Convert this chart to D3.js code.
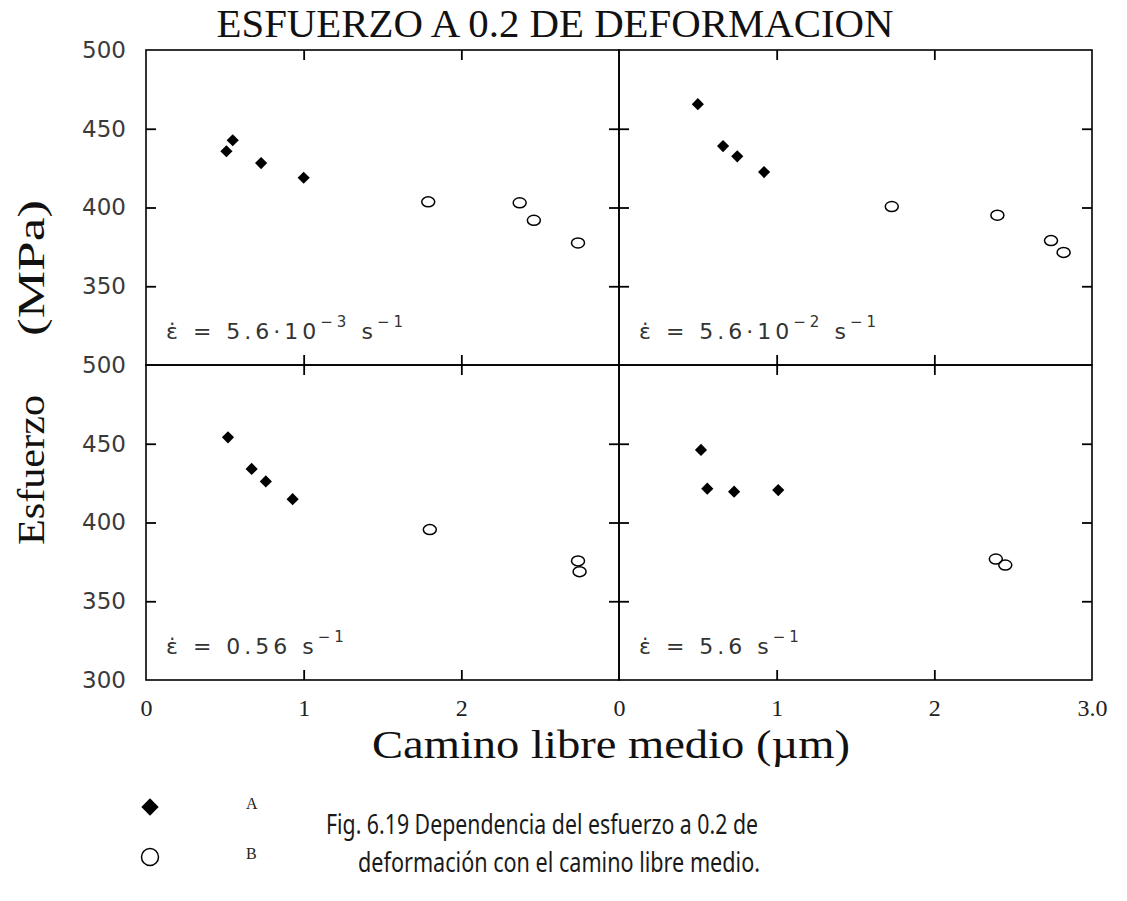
<!DOCTYPE html>
<html>
<head>
<meta charset="utf-8">
<script src="https://cdn.jsdelivr.net/npm/d3@7"></script>
<style>
  html, body { margin: 0; padding: 0; background: #fff; }
  svg { display: block; }
</style>
</head>
<body>
<svg id="chart" width="1127" height="901"></svg>
<script>
// Strain-rate panels: [mean free path (µm), stress (MPa)]
const panelRates = [
  { base: "5.6\u00b710", exp: "\u22123" },
  { base: "5.6\u00b710", exp: "\u22122" },
  { base: "0.56", exp: null },
  { base: "5.6", exp: null }
];

// Material A (filled diamonds)
const seriesA_tl = [[0.51, 435.7], [0.55, 442.7], [0.73, 428.2], [1.00, 418.9]];
const seriesA_tr = [[0.50, 465.6], [0.66, 439.0], [0.75, 432.5], [0.92, 422.5]];
const seriesA_bl = [[0.52, 454.1], [0.67, 434.0], [0.76, 426.1], [0.93, 414.8]];
const seriesA_br = [[0.52, 446.1], [0.56, 421.5], [0.73, 419.6], [1.01, 420.6]];

// Material B (open circles)
const seriesB_tl = [[1.79, 403.6], [2.37, 403.0], [2.46, 391.9], [2.74, 377.5]];
const seriesB_tr = [[1.73, 400.6], [2.40, 395.1], [2.74, 379.0], [2.82, 371.5]];
const seriesB_bl = [[1.80, 395.5], [2.74, 375.6], [2.75, 368.8]];
const seriesB_br = [[2.39, 376.8], [2.45, 373.0]];

const xDomain = [0, 3];
const yDomain = [300, 500];
const xTickValues = [1, 2];
const yTickValues = [350, 400, 450];
const yLabelsTop = [350, 400, 450, 500];
const yLabelsBottom = [300, 350, 400, 450, 500];
const xLabelsLeft = [0, 1, 2];
const xLabelsRight = [0, 1, 2, 3];
const xLabelText = { 0: "0", 1: "1", 2: "2", 3: "3.0" };

const legendItems = [
  { key: "A", shape: "diamond" },
  { key: "B", shape: "circle" }
];

const titleText = "ESFUERZO A 0.2 DE DEFORMACION";
const xAxisTitle = "Camino libre medio  (\u00b5m)";
const yAxisTitleParts = ["Esfuerzo", "(MPa)"];
const captionLines = [
  "Fig. 6.19 Dependencia del esfuerzo a 0.2 de",
  "deformaci\u00f3n con el camino libre medio."
];

// ---- layout ----
const svg = d3.select("#chart");
const cols = [[146, 619], [619, 1092]];
const rows = [[50, 365], [365, 680]];
const serif = "'Liberation Serif', 'DejaVu Serif', serif";
const plotter = "'DejaVu Sans', sans-serif";

const panels = [
  { c: 0, r: 0, A: seriesA_tl, B: seriesB_tl, rate: panelRates[0] },
  { c: 1, r: 0, A: seriesA_tr, B: seriesB_tr, rate: panelRates[1] },
  { c: 0, r: 1, A: seriesA_bl, B: seriesB_bl, rate: panelRates[2] },
  { c: 1, r: 1, A: seriesA_br, B: seriesB_br, rate: panelRates[3] }
];

const diamond = d3.symbol().type(d3.symbolSquare).size(74);

panels.forEach(p => {
  const [x0, x1] = cols[p.c];
  const [y0, y1] = rows[p.r];
  const x = d3.scaleLinear().domain(xDomain).range([x0, x1]);
  const y = d3.scaleLinear().domain(yDomain).range([y1, y0]);
  const g = svg.append("g");

  // frame
  g.append("rect")
    .attr("x", x0).attr("y", y0)
    .attr("width", x1 - x0).attr("height", y1 - y0)
    .attr("fill", "none").attr("stroke", "#000").attr("stroke-width", 1.6);

  // inward ticks on all four sides
  const tickAxes = [
    { axis: d3.axisBottom(x).tickValues(xTickValues), t: `translate(0,${y0})` },
    { axis: d3.axisTop(x).tickValues(xTickValues), t: `translate(0,${y1})` },
    { axis: d3.axisRight(y).tickValues(yTickValues), t: `translate(${x0},0)` },
    { axis: d3.axisLeft(y).tickValues(yTickValues), t: `translate(${x1},0)` }
  ];
  tickAxes.forEach(({ axis, t }) => {
    const a = g.append("g").attr("transform", t)
      .call(axis.tickSize(10).tickSizeOuter(0).tickFormat(""));
    a.select(".domain").remove();
    a.selectAll(".tick line").attr("stroke", "#000").attr("stroke-width", 1.8);
  });

  // y tick labels on the left column
  if (p.c === 0) {
    const a = g.append("g").attr("transform", `translate(${x0},0)`)
      .call(d3.axisLeft(y)
        .tickValues(p.r === 0 ? yLabelsTop : yLabelsBottom)
        .tickSize(0).tickPadding(20).tickFormat(d3.format("d")));
    a.select(".domain").remove();
    a.selectAll("text")
      .attr("font-family", plotter).attr("font-size", 23)
      .attr("fill", "#3a3a3a");
  }

  // x tick labels on the bottom row
  if (p.r === 1) {
    const a = g.append("g").attr("transform", `translate(0,${y1})`)
      .call(d3.axisBottom(x)
        .tickValues(p.c === 0 ? xLabelsLeft : xLabelsRight)
        .tickSize(0).tickPadding(19).tickFormat(d => xLabelText[d]));
    a.select(".domain").remove();
    a.selectAll("text")
      .attr("font-family", serif).attr("font-size", 24)
      .attr("fill", "#222");
  }

  // material A
  g.selectAll("path.ptA").data(p.A).join("path")
    .attr("class", "ptA")
    .attr("d", diamond)
    .attr("transform", d => `translate(${x(d[0])},${y(d[1])}) rotate(45)`)
    .attr("fill", "#000");

  // material B
  g.selectAll("ellipse.ptB").data(p.B).join("ellipse")
    .attr("class", "ptB")
    .attr("cx", d => x(d[0])).attr("cy", d => y(d[1]))
    .attr("rx", 6.5).attr("ry", 5)
    .attr("fill", "none").attr("stroke", "#000").attr("stroke-width", 1.5);

  // strain-rate annotation
  const t = g.append("text")
    .attr("x", x0 + 20).attr("y", y1 - 26)
    .attr("font-family", plotter).attr("font-size", 22)
    .attr("letter-spacing", 4)
    .attr("fill", "#333");
  t.append("tspan").text("\u03b5\u0307 = " + p.rate.base);
  if (p.rate.exp) {
    t.append("tspan").attr("dy", -12).attr("font-size", 15).text(p.rate.exp);
    t.append("tspan").attr("dy", 12).text(" s");
  } else {
    t.append("tspan").text(" s");
  }
  t.append("tspan").attr("dy", -12).attr("font-size", 15).text("\u22121");
});

// ---- titles ----
svg.append("text")
  .attr("x", 555).attr("y", 37)
  .attr("text-anchor", "middle")
  .attr("font-family", serif).attr("font-size", 41)
  .attr("textLength", 677).attr("lengthAdjust", "spacingAndGlyphs")
  .attr("fill", "#111")
  .text(titleText);

svg.append("text")
  .attr("x", 611).attr("y", 758)
  .attr("text-anchor", "middle")
  .attr("font-family", serif).attr("font-size", 40)
  .attr("textLength", 478).attr("lengthAdjust", "spacingAndGlyphs")
  .attr("fill", "#111")
  .text(xAxisTitle);

// vertical axis title, two words placed along the rotated baseline
const yt = svg.append("text")
  .attr("transform", "translate(44,372) rotate(-90)")
  .attr("font-family", serif).attr("font-size", 38)
  .attr("fill", "#111");
yt.append("tspan").attr("x", -173)
  .attr("textLength", 150).attr("lengthAdjust", "spacingAndGlyphs")
  .text(yAxisTitleParts[0]);
yt.append("tspan").attr("x", 36)
  .attr("textLength", 136).attr("lengthAdjust", "spacingAndGlyphs")
  .text(yAxisTitleParts[1]);

// ---- legend ----
const legend = svg.append("g");
legendItems.forEach((d, i) => {
  const cy = 807 + i * 50;
  if (d.shape === "diamond") {
    legend.append("path")
      .attr("d", d3.symbol().type(d3.symbolSquare).size(150))
      .attr("transform", `translate(150,${cy}) rotate(45)`)
      .attr("fill", "#000");
  } else {
    legend.append("circle")
      .attr("cx", 150).attr("cy", cy).attr("r", 8.5)
      .attr("fill", "none").attr("stroke", "#000").attr("stroke-width", 1.5);
  }
  legend.append("text")
    .attr("x", 246).attr("y", cy + 2)
    .attr("font-family", serif).attr("font-size", 16)
    .attr("fill", "#222")
    .text(d.key);
});

// ---- caption ----
svg.append("g").selectAll("text").data(captionLines).join("text")
  .attr("x", (d, i) => i === 0 ? 326 : 358)
  .attr("y", (d, i) => 834 + i * 38)
  .attr("font-family", "'Noto Sans', 'Open Sans', sans-serif")
  .attr("font-size", 27)
  .attr("textLength", (d, i) => i === 0 ? 432 : 402)
  .attr("lengthAdjust", "spacingAndGlyphs")
  .attr("fill", "#1a1a1a")
  .text(d => d);
</script>
</body>
</html>
